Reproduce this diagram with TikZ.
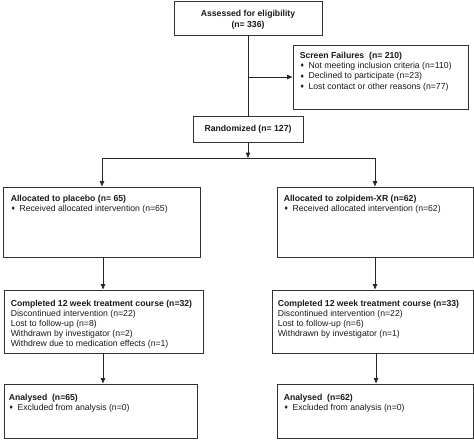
\documentclass[tikz,border=0pt]{standalone}
\usepackage{fontspec}
\setmainfont{Liberation Sans}
\newfontfamily\djv{DejaVu Sans}
\usetikzlibrary{fit,arrows.meta}
\newcommand\bul{\makebox[6.6pt][l]{\raisebox{0.6pt}{\djv\fontsize{4}{4}\selectfont ♦}}}
\tikzset{
  box/.style={draw=black!80, line width=0.75pt, inner sep=0pt},
  txt/.style={anchor=north west, inner sep=0pt, align=left, text=black!90,
    font=\fontsize{6.5}{7.65}\selectfont},
  ctxt/.style={inner sep=0pt, align=center, text=black!90,
    font=\fontsize{6.5}{8.2}\selectfont\bfseries},
  conn/.style={draw=black!85, line width=0.75pt},
  arr/.style={conn, -{Triangle[length=4pt,width=3.2pt]}}
}
\begin{document}
\begin{tikzpicture}[x=0.75pt,y=-0.75pt]
\useasboundingbox (0,0) rectangle (474,439);
% boxes
\node[box, fit={(174,1) (322,35)}] (assess) {};
\node[box, fit={(293,45) (468,109)}] (sf) {};
\node[box, fit={(193,116) (303,142)}] (rand) {};
\node[box, fit={(3,187) (200,257)}] (al1) {};
\node[box, fit={(277,187) (473,257)}] (al2) {};
\node[box, fit={(4,290) (203,353)}] (co1) {};
\node[box, fit={(272,290) (473,353)}] (co2) {};
\node[box, fit={(4,384) (197,438)}] (an1) {};
\node[box, fit={(277,384) (473,438)}] (an2) {};
% texts
\node[ctxt] (tassess) at ([yshift=-1.5pt]assess.center) {Assessed for eligibility\\(n= 336)};
\node[ctxt] (trand) at (rand.center) {Randomized (n= 127)};
\node[txt] (tsf) at ([shift={(7,7.5)}]sf.north west)
  {\textbf{Screen Failures~ (n= 210)}\\
   \bul Not meeting inclusion criteria (n=110)\\
   \bul Declined to participate (n=23)\\
   \bul Lost contact or other reasons (n=77)};
\node[txt] (tal1) at ([shift={(8,8.5)}]al1.north west)
  {\textbf{Allocated to placebo (n= 65)}\\
   \bul Received allocated intervention (n=65)};
\node[txt] (tal2) at ([shift={(7,8.5)}]al2.north west)
  {\textbf{Allocated to zolpidem-XR (n=62)}\\
   \bul Received allocated intervention (n=62)};
\node[txt] (tco1) at ([shift={(7,10)}]co1.north west)
  {\textbf{Completed 12 week treatment course (n=32)}\\
   Discontinued intervention (n=22)\\
   Lost to follow-up (n=8)\\
   Withdrawn by investigator (n=2)\\
   Withdrew due to medication effects (n=1)};
\node[txt] (tco2) at ([shift={(6,10)}]co2.north west)
  {\textbf{Completed 12 week treatment course (n=33)}\\
   Discontinued intervention (n=22)\\
   Lost to follow-up (n=6)\\
   Withdrawn by investigator (n=1)};
\node[txt] (tan1) at ([shift={(5,10)}]an1.north west)
  {\textbf{Analysed~ (n=65)}\\
   \bul Excluded from analysis (n=0)};
\node[txt] (tan2) at ([shift={(7,10)}]an2.north west)
  {\textbf{Analysed~ (n=62)}\\
   \bul Excluded from analysis (n=0)};
% connectors
\coordinate (split) at (248,158);
\coordinate (L) at (102,158);
\coordinate (R) at (375,158);
\draw[conn] (assess.south) -- (rand.north);
\draw[arr] (assess.south |- sf.west) -- (sf.west);
\draw[arr] (rand.south) -- (split);
\draw[conn] (L) -- (R);
\draw[arr] (L) -- (L |- al1.north);
\draw[arr] (R) -- (R |- al2.north);
\coordinate (d1) at (103,257);
\coordinate (d2) at (375,257);
\draw[arr] (d1) -- (d1 |- co1.north);
\draw[arr] (d2) -- (d2 |- co2.north);
\coordinate (e1) at (103,353);
\coordinate (e2) at (376,353);
\draw[arr] (e1) -- (e1 |- an1.north);
\draw[arr] (e2) -- (e2 |- an2.north);
\end{tikzpicture}
\end{document}
